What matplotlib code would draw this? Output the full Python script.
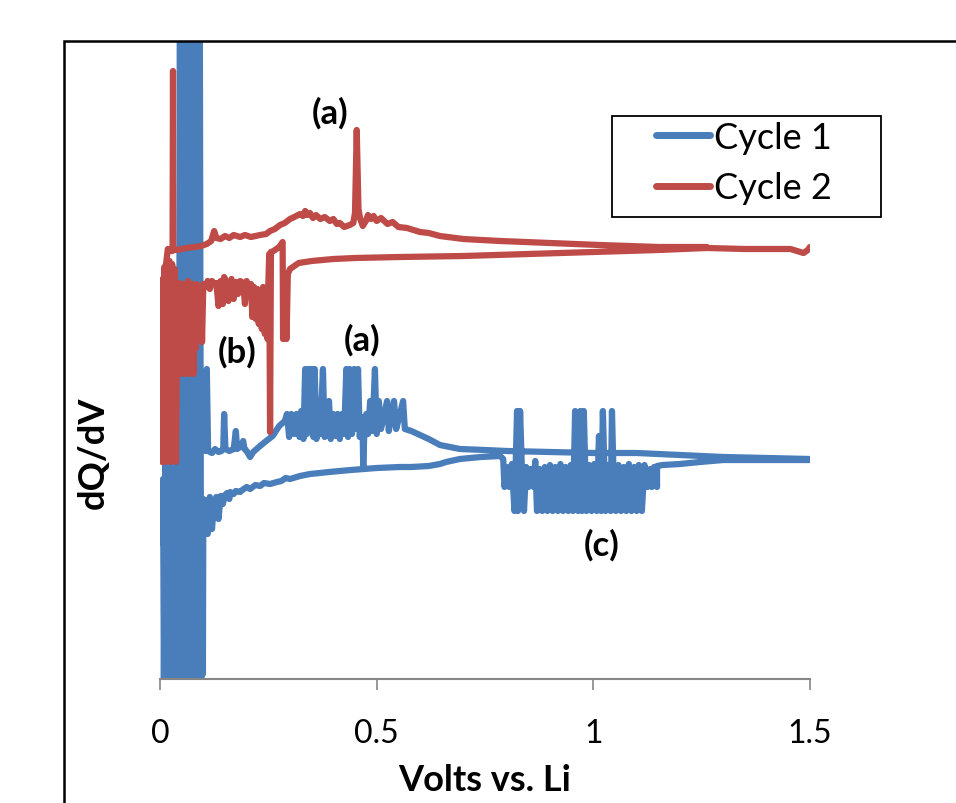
import matplotlib
matplotlib.use("Agg")
import matplotlib.pyplot as plt
from matplotlib.patches import Rectangle

plt.rcParams['font.family'] = ['Lato', 'DejaVu Sans']
plt.rcParams['path.simplify'] = False

# -------------------------------
# DATA (volts vs. Li, dQ/dV in arbitrary units)
# -------------------------------
cycle1_v = [
    1.500, 1.400, 1.300, 1.246, 1.200, 1.160, 1.147,
    # zone (c)
    1.147, 1.140, 1.135, 1.131, 1.125, 1.118, 1.112, 1.105, 1.100, 1.094,
    1.088, 1.082, 1.076, 1.070, 1.064, 1.058, 1.052, 1.046, 1.043, 1.040,
    1.034, 1.028, 1.022, 1.018, 1.013, 1.008, 1.002, 0.996, 0.990, 0.984,
    0.978, 0.974, 0.970, 0.965, 0.958, 0.953, 0.948, 0.942, 0.936, 0.930,
    0.924, 0.918, 0.912, 0.906, 0.900, 0.894, 0.888, 0.882, 0.876, 0.870,
    0.866, 0.862, 0.856, 0.850, 0.845, 0.840, 0.835, 0.831, 0.826, 0.824,
    0.818, 0.812, 0.806, 0.800, 0.795, 0.792,
    # lower branch
    0.785, 0.740, 0.692, 0.660, 0.646, 0.620, 0.580, 0.554, 0.500, 0.470,
    0.440, 0.415, 0.390, 0.369, 0.346, 0.323, 0.300, 0.290, 0.280, 0.270,
    0.254, 0.240, 0.231, 0.220, 0.208, 0.200, 0.190, 0.185, 0.175, 0.170,
    0.162, 0.160, 0.155, 0.150, 0.145, 0.140, 0.135, 0.130, 0.125, 0.120,
    0.115, 0.110, 0.105, 0.100,
    # near 0 V
    0.099, 0.097, 0.095, 0.092, 0.090, 0.087, 0.084, 0.082, 0.080, 0.078,
    0.076, 0.074, 0.071, 0.068, 0.065, 0.062, 0.059, 0.056, 0.053, 0.050,
    0.048, 0.046, 0.043, 0.040, 0.038, 0.035, 0.032, 0.030, 0.027, 0.024,
    0.021, 0.018, 0.015, 0.012, 0.009, 0.007, 0.007, 0.028, 0.040, 0.060,
    0.080, 0.092,
    # upper branch
    0.097, 0.100, 0.105, 0.108, 0.111, 0.120, 0.127, 0.135, 0.142, 0.146,
    0.148, 0.151, 0.160, 0.170, 0.175, 0.178, 0.185, 0.192, 0.195, 0.200,
    0.208, 0.215, 0.231, 0.245, 0.260, 0.275, 0.288,
    # zone (a)
    0.293, 0.298, 0.303, 0.310, 0.315, 0.322, 0.326, 0.331, 0.335, 0.339,
    0.343, 0.347, 0.350, 0.354, 0.357, 0.361, 0.366, 0.370, 0.376, 0.380,
    0.385, 0.390, 0.394, 0.400, 0.405, 0.410, 0.415, 0.420, 0.425, 0.430,
    0.434, 0.438, 0.443, 0.448, 0.452, 0.457, 0.461, 0.465, 0.468, 0.469,
    0.471, 0.476, 0.480, 0.485, 0.489, 0.493, 0.496, 0.500, 0.505, 0.510,
    0.524, 0.528, 0.535, 0.540, 0.545, 0.552, 0.561, 0.565, 0.580, 0.600,
    0.620, 0.646, 0.692, 0.750, 0.800, 0.900, 1.000, 1.100, 1.200, 1.300,
    1.400, 1.500,
]
cycle1_q = [
    219, 219, 219, 217, 215, 214, 213,
    192, 212, 192, 210, 192, 214, 168, 214, 168, 212,
    168, 215, 168, 212, 168, 214, 168, 215, 268, 168,
    214, 168, 268, 168, 243, 168, 215, 168, 214, 168,
    268, 168, 268, 168, 268, 168, 214, 168, 212, 168,
    215, 168, 212, 168, 214, 168, 212, 168, 210, 168,
    218, 192, 210, 192, 212, 168, 212, 268, 168, 268,
    168, 215, 192, 212, 192, 220,
    223, 222, 220, 217, 215, 213, 212, 212, 211, 210,
    209, 208, 207, 206, 205, 203, 200, 201, 198, 197,
    195, 196, 193, 194, 190, 192, 189, 187, 188, 185,
    187, 180, 186, 184, 175, 183, 160, 182, 178, 150,
    182, 145, 178, 180,
    5, 175, 0, 638, 0, 638, 0, 638, 0, 280,
    0, 638, 0, 638, 0, 638, 0, 638, 0, 638,
    0, 638, 0, 290, 0, 265, 0, 270, 0, 250,
    0, 230, 0, 215, 0, 200, 135, 170, 210, 225,
    230, 228,
    232, 230, 228, 310, 228, 226, 230, 227, 228, 230,
    265, 230, 228, 230, 248, 230, 232, 238, 230, 228,
    222, 227, 233, 238, 243, 253, 258,
    265, 242, 265, 245, 265, 242, 268, 240, 310, 245,
    310, 250, 310, 242, 310, 240, 278, 245, 310, 242,
    265, 278, 240, 265, 243, 265, 240, 265, 245, 310,
    242, 310, 245, 310, 250, 310, 242, 262, 240, 210,
    240, 265, 245, 278, 248, 278, 310, 245, 278, 250,
    278, 248, 265, 278, 250, 262, 278, 250, 248, 244,
    240, 234, 230, 229, 228, 227, 226, 226, 224, 222,
    221, 220,
]

cycle2_v = [
    # lower branch from 1.5 V
    1.500, 1.495, 1.485, 1.470, 1.455, 1.350, 1.262, 1.150, 1.000, 0.850,
    0.700, 0.554, 0.450, 0.400, 0.350, 0.320, 0.300, 0.295, 0.292, 0.290,
    0.288, 0.286, 0.284, 0.283, 0.275, 0.262, 0.256, 0.254, 0.252,
    # zone (b)
    0.250, 0.248, 0.245, 0.242, 0.238, 0.235, 0.231, 0.228, 0.225, 0.221,
    0.217, 0.213, 0.210, 0.205, 0.200, 0.196, 0.192, 0.185, 0.180, 0.175,
    0.170, 0.165, 0.158, 0.152, 0.148, 0.145, 0.140, 0.135, 0.130, 0.125,
    0.120, 0.115, 0.110, 0.105, 0.100, 0.097, 0.095, 0.092, 0.090,
    # near 0 V
    0.087, 0.085, 0.082, 0.080, 0.077, 0.075, 0.072, 0.070, 0.067, 0.065,
    0.062, 0.060, 0.057, 0.055, 0.052, 0.050, 0.047, 0.045, 0.042, 0.040,
    0.037, 0.034, 0.031, 0.028, 0.025, 0.022, 0.019, 0.016, 0.013, 0.010,
    0.008, 0.006, 0.005, 0.005, 0.010, 0.018, 0.025, 0.029, 0.030, 0.031,
    # upper branch
    0.040, 0.060, 0.081, 0.095, 0.108, 0.118, 0.125, 0.130, 0.140, 0.150,
    0.160, 0.170, 0.185, 0.196, 0.210, 0.231, 0.245, 0.254, 0.265, 0.277,
    0.288, 0.300, 0.310, 0.323, 0.330, 0.335, 0.340, 0.346, 0.353, 0.360,
    0.370, 0.380, 0.392, 0.400, 0.408, 0.415, 0.425, 0.438, 0.446, 0.450,
    0.454, 0.458, 0.462, 0.468, 0.475, 0.480, 0.487, 0.493, 0.500, 0.510,
    0.525, 0.537, 0.550, 0.570, 0.600, 0.620, 0.646, 0.700, 0.785, 0.900,
    1.015, 1.150, 1.262,
]
cycle2_q = [
    432, 429, 426, 428, 430, 430, 431, 429, 427, 425,
    423, 422, 421, 420, 418, 416, 410, 405, 340, 400,
    345, 395, 340, 437, 432, 428, 427, 247, 425,
    395, 340, 390, 345, 392, 350, 388, 355, 390, 360,
    392, 362, 395, 385, 398, 375, 396, 398, 385, 397,
    380, 400, 378, 398, 402, 375, 398, 373, 396, 395,
    398, 390, 398, 392, 395, 337, 390, 340, 385,
    340, 395, 330, 392, 305, 395, 310, 390, 305, 398,
    310, 392, 305, 395, 308, 390, 305, 396, 310, 392,
    217, 410, 220, 415, 217, 418, 220, 415, 217, 412,
    220, 400, 217, 365, 400, 430, 428, 428, 608, 430,
    429, 431, 432, 433, 435, 438, 448, 441, 440, 443,
    441, 444, 442, 444, 442, 444, 445, 448, 450, 454,
    456, 460, 462, 465, 463, 468, 464, 466, 461, 464,
    460, 462, 458, 460, 455, 456, 452, 454, 456, 466,
    549, 470, 460, 453, 458, 464, 460, 463, 458, 461,
    455, 457, 452, 451, 447, 446, 443, 440, 438, 436,
    434, 432, 432,
]

labels = ['Cycle 1', 'Cycle 2']
colors = ['#4A7EBB', '#BE4B48']
xticks = [0, 0.5, 1, 1.5]
xtick_labels = ['0', '0.5', '1', '1.5']

# -------------------------------
# FIGURE
# -------------------------------
W, H = 956, 804
fig = plt.figure(figsize=(W / 100, H / 100), dpi=100)
ax = fig.add_axes([160 / W, 1 - 680 / H, 650 / W, 638 / H])

ax.plot(cycle1_v, cycle1_q, color=colors[0], lw=4.5, solid_joinstyle='round',
        solid_capstyle='round', label=labels[0])
ax.plot(cycle2_v, cycle2_q, color=colors[1], lw=4.5, solid_joinstyle='round',
        solid_capstyle='round', label=labels[1])

ax.set_xlim(0, 1.5)
ax.set_ylim(0, 638)
ax.set_xticks(xticks)
ax.set_xticklabels(xtick_labels, fontsize=23)
ax.set_yticks([])
for s in ['left', 'top', 'right']:
    ax.spines[s].set_visible(False)
ax.spines['bottom'].set_color('#868686')
ax.spines['bottom'].set_linewidth(1.5)
ax.tick_params(axis='x', direction='out', length=8, width=1.2, color='#868686', pad=20)

ax.set_xlabel('Volts vs. Li', fontsize=26, fontweight='bold', labelpad=11)
ax.set_ylabel('dQ/dV', fontsize=26, fontweight='bold')
ax.yaxis.set_label_coords((110 - 160) / 650, (680 - 453) / 638)

# peak labels
ax.text(0.392, 567, '(a)', fontsize=25, fontweight='bold', ha='center', va='center')
ax.text(0.466, 340, '(a)', fontsize=25, fontweight='bold', ha='center', va='center')
ax.text(0.178, 328, '(b)', fontsize=25, fontweight='bold', ha='center', va='center')
ax.text(1.018, 135, '(c)', fontsize=25, fontweight='bold', ha='center', va='center')

# legend (frame drawn separately to match the wide box)
leg = ax.legend(loc='upper left', bbox_to_anchor=((656 - 160) / 650, 1 - (122 - 42) / 638),
                fontsize=26, frameon=False, handlelength=1.5, handletextpad=0.12,
                borderpad=0, labelspacing=0.48, borderaxespad=0)
for h in leg.get_lines():
    h.set_linewidth(5)
ax.add_patch(Rectangle(((612 - 160) / 650, 1 - (218 - 42) / 638), (881 - 612) / 650, (218 - 117) / 638,
                       transform=ax.transAxes, fill=False, edgecolor='black', lw=1.3,
                       zorder=5, clip_on=False))

# outer chart frame
fig.patches.append(Rectangle((64 / W, -0.5), 2, 1.5 - 42 / H, transform=fig.transFigure,
                             fill=False, edgecolor='black', lw=1.8))

fig.savefig('out.png', dpi=100)
